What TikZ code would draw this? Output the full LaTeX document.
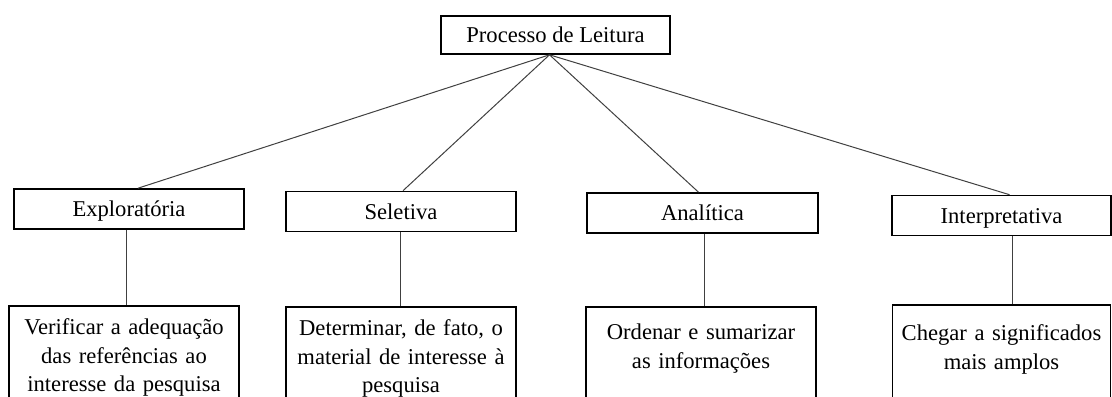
\documentclass[tikz,border=0pt]{standalone}
\usepackage{fontspec}
\setmainfont{Liberation Serif}

\begin{document}
\begin{tikzpicture}[
        x = 0.5pt, y = -0.5pt,
        box/.style = {draw, line width = 0.8pt, font = \fontsize{11.3}{14.2}\selectfont,
            minimum width = 115pt, minimum height = 20pt, inner sep = 0pt,
            text height = 9pt, text depth = 1.5pt},
        leaf/.style = {draw, line width = 0.8pt, font = \fontsize{11.3}{14.2}\selectfont,
            anchor = north, align = center, text width = 109pt, inner xsep = 3pt,
            inner ysep = 6.5pt, text height = 8pt, text depth = 60pt},
        link/.style = {line width = 0.5pt, black!75}
    ]

        % Page has the size of the original figure.
        \useasboundingbox (0, 0) rectangle (1112, 396);
        \clip (0, 0) rectangle (1112, 396);

        % Root of the tree.
        \node[box, minimum width = 114.5pt, minimum height = 19pt] (root) at (555.5, 35) {Processo de Leitura};

        % The four kinds of reading.
        \node[box] (expl) at (129, 209) {Exploratória};
        \node[box] (selt) at (401, 211.5) {Seletiva};
        \node[box, minimum width = 115.5pt] (anal) at (702.5, 213) {Analítica};
        \node[box, minimum width = 109.5pt] (intp) at (1001.5, 215.5) {Interpretativa};

        % What each one is for; these boxes run off the bottom edge.
        \node[leaf] (goal1) at (124, 305) {Verificar a adequação\\das referências ao\\interesse da pesquisa};
        \node[leaf] (goal2) at (401, 306) {Determinar, de fato, o\\material de interesse à\\pesquisa};
        \node[leaf, text height = 10pt] (goal3) at (701, 306) {Ordenar e sumarizar\\as informações};
        \node[leaf, text height = 11.5pt, text width = 103pt] (goal4) at (1001.5, 304) {Chegar a significados\\mais amplos};

        % Point under the root where the four lines meet.
        \coordinate (hub) at ([xshift = -3pt]root.south);

        % Line from the root to each kind, and one down to its goal.
        \foreach \kind/\goal/\dtop/\ddown in {expl/goal1/4.5pt/-1.5pt, selt/goal2/1pt/-0.5pt,
            anal/goal3/-2pt/0.75pt, intp/goal4/4pt/5.25pt}{
            \draw[link] (hub) to ([xshift = \dtop]\kind.north);
            \draw[link] ([xshift = \ddown]\kind.south) to ([xshift = \ddown]\kind.south |- \goal.north);
        }
    \end{tikzpicture}
\end{document}
